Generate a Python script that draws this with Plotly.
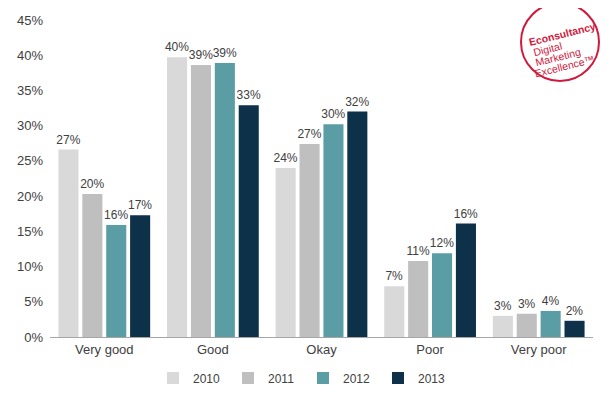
import math
import plotly.graph_objects as go

categories = ["Very good", "Good", "Okay", "Poor", "Very poor"]
years = ["2010", "2011", "2012", "2013"]
v2010 = [26.6, 39.7, 24.0, 7.2, 3.0]
v2011 = [20.3, 38.6, 27.4, 10.8, 3.3]
v2012 = [15.9, 38.9, 30.2, 11.9, 3.7]
v2013 = [17.3, 32.9, 32.0, 16.1, 2.3]
colors = ["#d9d9d9", "#bfbfbf", "#5b9da5", "#0c3148"]
tick_vals = [0, 5, 10, 15, 20, 25, 30, 35, 40, 45]
tick_text = [f"{v}%" for v in tick_vals]
logo_lines = ["<b>Econsultancy</b>", "Digital", "Marketing", "Excellence™"]

font = "Liberation Sans, Arial, sans-serif"
txt = "#404040"
red = "#cf1a3c"

# page body has an 8px margin; figure sized so plot area lands at the reference spot
OFF = 8
W, H = 615 - OFF, 393 - OFF
PX0, PX1, PY0, PY1 = 50, 593, 20, 337  # plot area in window pixels
L, R, T = PX0 - OFF, W - (PX1 - OFF), PY0 - OFF
B = H - (PY1 - OFF)
pw, ph = PX1 - PX0, PY1 - PY0


def px(sx):
    return (sx - PX0) / pw


def py(sy):
    return (PY1 - sy) / ph


fig = go.Figure()
for name, vals, col in zip(years, [v2010, v2011, v2012, v2013], colors):
    fig.add_trace(go.Bar(
        x=categories, y=vals, name=name, marker_color=col,
        marker_line_width=0,
        texttemplate="%{y:.0f}%", textposition="outside",
        constraintext="none",
        textfont=dict(size=12, color=txt, family=font),
        cliponaxis=False,
    ))

fig.update_layout(
    width=W, height=H,
    margin=dict(l=L, r=R, t=T, b=B),
    paper_bgcolor="white", plot_bgcolor="white",
    barmode="group", bargap=0.12, bargroupgap=0.16,
    font=dict(family=font, size=12, color=txt),
    showlegend=True,
    legend=dict(orientation="h", x=px(303), xanchor="center",
                yref="container", y=(H - (378 - OFF)) / H, yanchor="middle",
                font=dict(size=12, color=txt), itemwidth=30, traceorder="normal",
                entrywidth=30, entrywidthmode="pixels", borderwidth=0),
    xaxis=dict(showline=True, linecolor="#a6a6a6", linewidth=1, ticks="",
               tickfont=dict(size=13, color=txt), automargin=False),
    yaxis=dict(range=[0, 45], tickvals=tick_vals, ticktext=tick_text,
               showgrid=False, zeroline=False, showline=False, automargin=False,
               tickfont=dict(size=13, color=txt), ticklabelstandoff=6),
)

# Logo
cx, cy, r = 560, 42, 39
fig.add_shape(type="circle", xref="paper", yref="paper",
              x0=px(cx - r), x1=px(cx + r), y0=py(cy + r), y1=py(cy - r),
              line=dict(color=red, width=2))
ang = math.radians(14)
ux, uy = math.cos(ang), -math.sin(ang)
nx, ny = math.sin(ang), math.cos(ang)
sx0, sy0 = 529, 42
widths = [68, 32, 48, 58]
for i, (line, w) in enumerate(zip(logo_lines, widths)):
    lx = sx0 + i * 10.8 * nx + w / 2 * ux
    ly = sy0 + i * 10.8 * ny + w / 2 * uy
    fig.add_annotation(xref="paper", yref="paper", x=px(lx), y=py(ly),
                       xanchor="center", yanchor="middle", text=line,
                       showarrow=False, textangle=-14,
                       font=dict(size=10.5, color=red, family=font))

fig.write_html("out.html")
